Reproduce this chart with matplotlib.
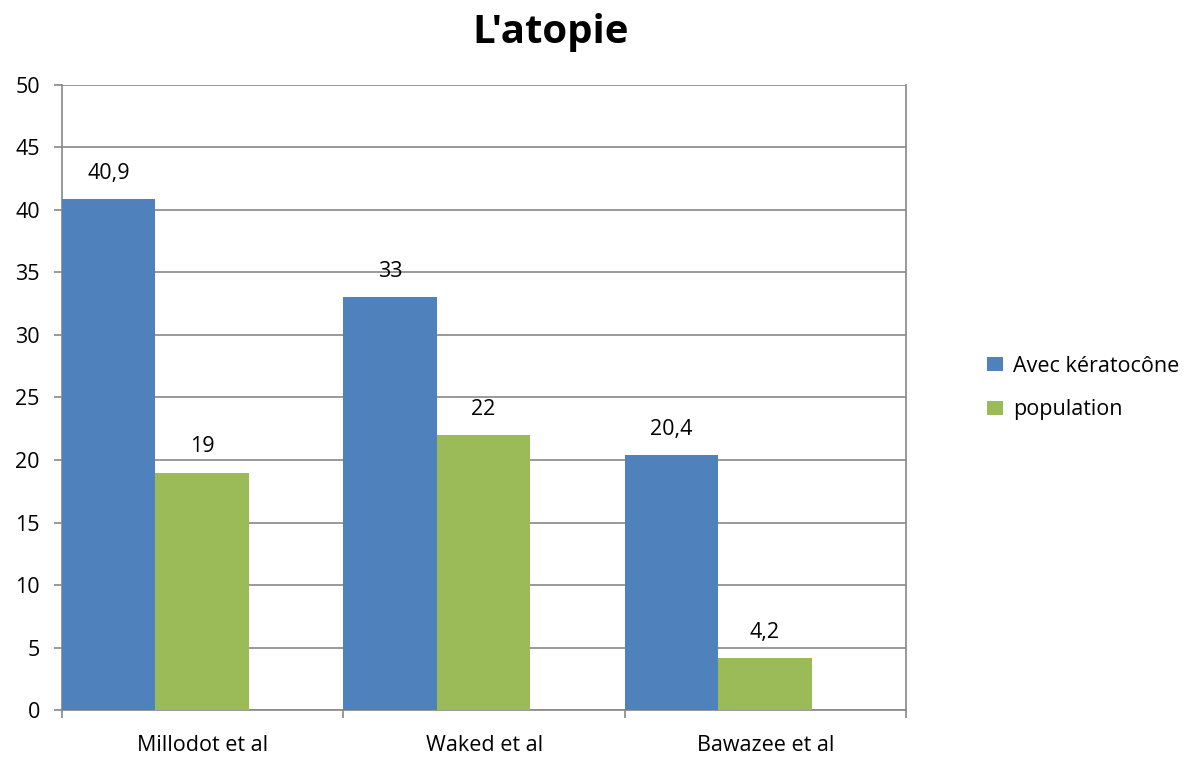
import matplotlib
matplotlib.use('Agg')
import matplotlib.pyplot as plt
import numpy as np

plt.rcParams['font.family'] = ['Open Sans', 'DejaVu Sans']

# donnees
etudes = ['Millodot et al', 'Waked et al', 'Bawazee et al']
keratocone = [40.9, 33, 20.4]
population = [19, 22, 4.2]
etiq_kerato = ['40,9', '33', '20,4']
etiq_pop = ['19', '22', '4,2']

bleu = '#4F81BD'
vert = '#9BBB59'
gris = '#888888'
fs = 15.5

fig = plt.figure(figsize=(11.95, 7.58), dpi=100)
ax = fig.add_axes([0.0519, 0.0633, 0.7064, 0.8246])

x = np.arange(len(etudes))
w = 0.332
b1 = ax.bar(x, keratocone, w, align='edge', color=bleu, label='Avec kératocône', zorder=3)
b2 = ax.bar(x + w, population, w, align='edge', color=vert, label='population', zorder=3)

for rect, t in zip(b1, etiq_kerato):
    ax.text(rect.get_x() + rect.get_width() / 2, rect.get_height() + 1.2, t,
            ha='center', va='bottom', fontsize=fs)
for rect, t in zip(b2, etiq_pop):
    ax.text(rect.get_x() + rect.get_width() / 2, rect.get_height() + 1.2, t,
            ha='center', va='bottom', fontsize=fs)

ax.set_xlim(0, 3)
ax.set_ylim(0, 50)
ax.set_yticks(range(0, 51, 5))
ax.set_xticks([0, 1, 2, 3])
ax.set_xticklabels([])
ax.set_xticks(x + 0.5, minor=True)
ax.set_xticklabels(etudes, minor=True)
ax.tick_params(axis='x', which='minor', length=0, pad=18, labelsize=fs)
ax.tick_params(axis='x', which='major', length=6, color=gris, width=1.2)
ax.tick_params(axis='y', length=6, color=gris, width=1.2, labelsize=fs, pad=10)

ax.grid(axis='y', color=gris, linewidth=1.2, zorder=0)
for s in ['left', 'right', 'bottom']:
    ax.spines[s].set_color(gris)
    ax.spines[s].set_linewidth(1.2)
ax.spines['top'].set_visible(False)

fig.text(0.461, 0.957, "L'atopie", ha='center', va='center', fontsize=29, fontweight='bold')

ax.legend(loc='center left', bbox_to_anchor=(1.073, 0.515), frameon=False,
          fontsize=fs, handlelength=0.75, handleheight=0.65, handletextpad=0.45,
          labelspacing=1.05)

fig.savefig('out.png', dpi=100)
